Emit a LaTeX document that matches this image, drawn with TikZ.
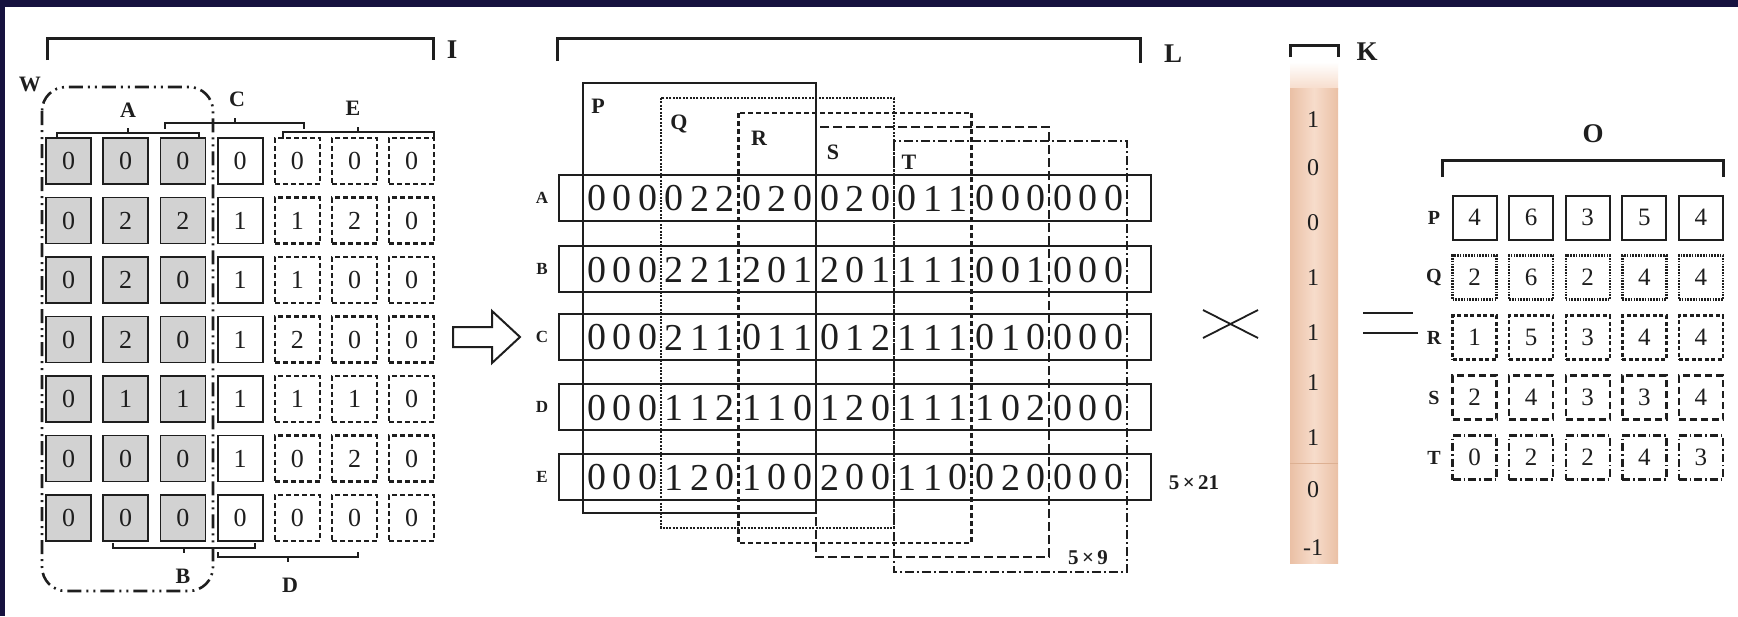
\documentclass[tikz,border=0pt]{standalone}
\usepackage{fontspec}
\setmainfont{Liberation Serif}
\definecolor{ink}{HTML}{1E1E1E}
\definecolor{navy}{HTML}{16123F}
\definecolor{cellgrey}{HTML}{D2D2D2}
\definecolor{rowgrey}{HTML}{D9D9D9}
\definecolor{peachC}{HTML}{F7DCCB}
\definecolor{peachE}{HTML}{EAC0A5}
\definecolor{peachL}{HTML}{DDB092}
\tikzset{
  every node/.style={inner sep=0pt, outer sep=0pt, text=ink},
  ln/.style={line width=2pt, draw=ink},
  brk/.style={line width=3pt, draw=ink},
  thinbrk/.style={line width=1.8pt, draw=ink},
  gcell/.style={draw=ink, line width=1.8pt, fill=cellgrey, minimum width=45pt, minimum height=46pt, font=\fontsize{26}{26}\selectfont},
  wcell/.style={gcell, fill=white},
  dcell/.style={wcell, line width=2.2pt, dash pattern=on 5pt off 3pt},
  lbl/.style={font=\bfseries\fontsize{27}{27}\selectfont},
  slbl/.style={font=\bfseries\fontsize{22}{22}\selectfont},
  rlbl/.style={font=\bfseries\fontsize{17}{17}\selectfont},
  rowbox/.style={draw=ink, line width=2pt, minimum width=592pt, minimum height=46pt},
  mdig/.style={font=\fontsize{38}{38}\selectfont},
  wP/.style={line width=2pt, draw=ink},
  wQ/.style={line width=2.2pt, draw=ink, dash pattern=on 2pt off 1.4pt},
  wR/.style={line width=2.2pt, draw=ink, dash pattern=on 5pt off 3pt},
  wS/.style={line width=2.2pt, draw=ink, dash pattern=on 9pt off 4pt},
  wT/.style={line width=2.2pt, draw=ink, dash pattern=on 9pt off 3pt on 2pt off 3pt},
  wdd/.style={line width=2.6pt, draw=ink, dash pattern=on 14pt off 5pt on 2pt off 5pt on 2pt off 5pt},
  kdig/.style={font=\fontsize{24}{24}\selectfont},
  ocell/.style={draw=ink, line width=2pt, minimum width=44pt, minimum height=44pt, font=\fontsize{25}{25}\selectfont},
  oP/.style={},
  oQ/.style={dash pattern=on 1.6pt off 1.2pt, line width=2.4pt},
  oR/.style={dash pattern=on 4pt off 2.5pt, line width=2.4pt},
  oS/.style={dash pattern=on 7pt off 4pt, line width=2.4pt},
  oT/.style={dash pattern=on 8pt off 3pt on 1.5pt off 3pt, line width=2.4pt},
}
\begin{document}
\begin{tikzpicture}[x=1pt,y=-1pt]
\useasboundingbox (0,0) rectangle (1738,616);
\fill[white] (0,0) rectangle (1738,616);
\fill[navy] (0,0) rectangle (1738,7);
\fill[navy] (0,0) rectangle (5,616);

% ---------- left grid ----------
\draw[brk] (47,60) -- (47,38) -- (433,38) -- (433,60);
\node[lbl] (lI) at (452,50) {I};

\draw[wdd, rounded corners=24pt] (42,87) rectangle (213,591);
\node[slbl] (lW) at (30,84) {W};

\foreach \row [count=\r] in {{0,0,0,0,0,0,0},{0,2,2,1,1,2,0},{0,2,0,1,1,0,0},{0,2,0,1,2,0,0},{0,1,1,1,1,1,0},{0,0,0,1,0,2,0},{0,0,0,0,0,0,0}}{
  \foreach \v [count=\c] in \row {
    \ifnum\c<4 \def\st{gcell}\else\ifnum\c=4 \def\st{wcell}\else\def\st{dcell}\fi\fi
    \node[\st] (g\r-\c) at ({68.5+57.2*(\c-1)},{161+59.5*(\r-1)}) {\v};
  }
}

% braces above
\draw[thinbrk] (57,139) -- (57,133) -- (199,133) -- (199,139);
\draw[thinbrk] (128,133) -- (128,128);
\node[slbl] (lA) at (128,110) {A};
\draw[thinbrk] (165,129) -- (165,123) -- (304,123) -- (304,129);
\draw[thinbrk] (235,123) -- (235,118);
\node[slbl] (lC) at (237,99) {C};
\draw[thinbrk] (283,139) -- (283,132) -- (434,132) -- (434,139);
\draw[thinbrk] (358,132) -- (358,127);
\node[slbl] (lE) at (353,108) {E};
% braces below
\draw[thinbrk] (113,543) -- (113,548) -- (255,548) -- (255,543);
\draw[thinbrk] (184,548) -- (184,553);
\node[slbl] (lB) at (183,576) {B};
\draw[thinbrk] (218,552) -- (218,557) -- (358,557) -- (358,552);
\draw[thinbrk] (288,557) -- (288,562);
\node[slbl] (lD) at (290,585) {D};

% hollow arrow
\draw[ln, line join=miter] (453,327) -- (492,327) -- (492,311) -- (520,337) -- (492,363) -- (492,347) -- (453,347) -- cycle;

% ---------- middle ----------
\draw[brk] (557,61) -- (557,38) -- (1140,38) -- (1140,63);
\node[lbl] (lL) at (1173,54) {L};

\foreach \lab/\y in {A/197.5,B/269,C/336.5,D/407,E/476.5}{
  \ifx\lab A
    \node[rowbox, fill=rowgrey] (row\lab) at (855,\y) {};
  \else\ifx\lab E
    \node[rowbox, line width=2.5pt, dash pattern=on 5pt off 3pt] (row\lab) at (855,\y) {};
  \else
    \node[rowbox] (row\lab) at (855,\y) {};
  \fi\fi
  \node[rlbl] (rl\lab) at (542,\y) {\lab};
}

% sliding windows
\draw[wP] (583,83) rectangle (816.1,513);
\draw[wQ] (660.7,98) rectangle (893.8,528);
\draw[wR] (738.4,113) rectangle (971.5,543);
\draw[wS] (816.1,127) rectangle (1049.2,557);
\draw[wT] (893.8,141) rectangle (1126.9,572);
\node[slbl] (wlP) at (598,106) {P};
\node[slbl] (wlQ) at (679,124) {Q};
\node[slbl] (wlR) at (759,138) {R};
\node[slbl] (wlS) at (833,152) {S};
\node[slbl] (wlT) at (909,162) {T};

\foreach \lab/\y/\dl in {
  A/197.5/{0,0,0,0,2,2,0,2,0,0,2,0,0,1,1,0,0,0,0,0,0},
  B/269/{0,0,0,2,2,1,2,0,1,2,0,1,1,1,1,0,0,1,0,0,0},
  C/336.5/{0,0,0,2,1,1,0,1,1,0,1,2,1,1,1,0,1,0,0,0,0},
  D/407/{0,0,0,1,1,2,1,1,0,1,2,0,1,1,1,1,0,2,0,0,0},
  E/476.5/{0,0,0,1,2,0,1,0,0,2,0,0,1,1,0,0,2,0,0,0,0}}{
  \foreach \v [count=\i] in \dl {
    \pgfmathtruncatemacro\g{(\i-1)/3}
    \pgfmathtruncatemacro\p{\i-1-3*\g}
    \node[mdig] (d\lab-\i) at ({583+77.7*\g+13.5+25.5*\p},{\y+1}) {\v};
  }
}
\node[rlbl, font=\bfseries\fontsize{21}{21}\selectfont] (n521) at (1194,483) {5\,×\,21};
\node[rlbl, font=\bfseries\fontsize{21}{21}\selectfont] (n59) at (1088,558) {5\,×\,9};

% multiply sign
\draw[line width=1.8pt, draw=ink] (1203,310) -- (1258,338);
\draw[line width=1.8pt, draw=ink] (1203,338) -- (1258,310);

% ---------- kernel K ----------
\shade[top color=white, bottom color=peachC] (1290,62) rectangle (1338,89);
\shade[left color=peachE, right color=peachE, middle color=peachC] (1290,88) rectangle (1338,563);
\draw[peachL, line width=1pt] (1290,463) -- (1338,463);
\draw[brk] (1290,57) -- (1290,45) -- (1338,45) -- (1338,57);
\node[lbl] (lK) at (1367,52) {K};
\foreach \v/\y [count=\i] in {1/120,0/168,0/223,1/278,1/333,1/383,1/438,0/490,-1/548}{
  \node[kdig] (k\i) at (1313,\y) {\v};
}

% equals sign
\draw[line width=2.4pt, draw=ink] (1363,313) -- (1413,313);
\draw[line width=2.4pt, draw=ink] (1363,333) -- (1418,333);

% ---------- output O ----------
\draw[brk] (1442,177) -- (1442,160) -- (1723,160) -- (1723,177);
\node[lbl] (lO) at (1593,134) {O};
\foreach \lab/\row [count=\r] in {P/{4,6,3,5,4},Q/{2,6,2,4,4},R/{1,5,3,4,4},S/{2,4,3,3,4},T/{0,2,2,4,3}}{
  \node[rlbl, font=\bfseries\fontsize{20}{20}\selectfont] (ol\lab) at (1434,{217.5+60*(\r-1)}) {\lab};
  \foreach \v [count=\c] in \row {
    \node[ocell, o\lab] (o\lab-\c) at ({1474.5+56.6*(\c-1)},{217.5+60*(\r-1)}) {\v};
  }
}
\end{tikzpicture}
\end{document}
